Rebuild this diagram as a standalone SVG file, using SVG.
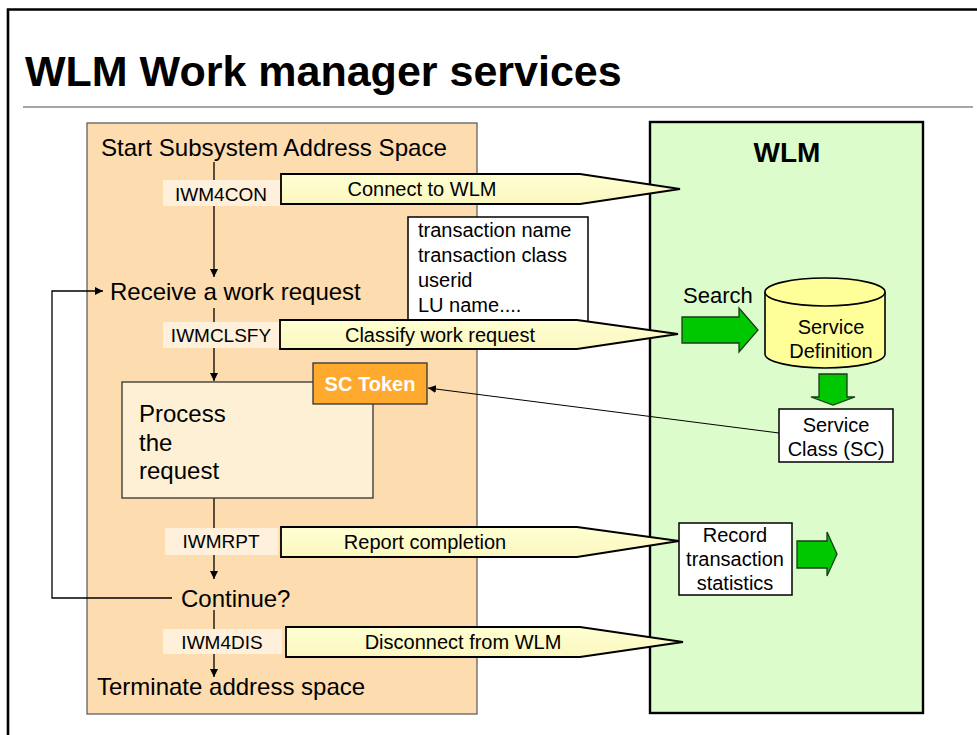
<svg xmlns="http://www.w3.org/2000/svg" width="977" height="735" viewBox="0 0 977 735">
<defs>
<style>
text{font-family:"Liberation Sans",Arial,sans-serif;fill:#000}
.lbl{fill:#FEF0DA;stroke:none}
.lbt{font-size:19px;text-anchor:middle}
.big{font-size:24px}
.m{font-size:20px}
.ctr{text-anchor:middle}
.fat{fill:url(#yg);stroke:#000;stroke-width:1.8}
.flow{stroke:#000;stroke-width:1.3;fill:none}
.grn{fill:#00C800;stroke:#1a3a1a;stroke-width:1.3}
.box{fill:#fff;stroke:#000;stroke-width:1.5}
</style>
<linearGradient id="yg" x1="0" y1="0" x2="0" y2="1">
<stop offset="0" stop-color="#FFFFD2"/>
<stop offset="1" stop-color="#FBF7C0"/>
</linearGradient>
<marker id="ah" viewBox="0 0 10 10" refX="10" refY="5" markerWidth="8" markerHeight="8" markerUnits="userSpaceOnUse" orient="auto">
<path d="M0,0 L10,5 L0,10 z" fill="#000"/>
</marker>
</defs>
<rect x="0" y="0" width="977" height="735" fill="#fff"/>
<path d="M8,740 V9.5 H985" fill="none" stroke="#000" stroke-width="2.6"/>
<text x="25" y="86" font-size="43" font-weight="bold">WLM Work manager services</text>
<line x1="23" y1="107" x2="973" y2="107" stroke="#888" stroke-width="1.6"/>

<g id="subsystem">
<rect x="87" y="123" width="390" height="591" fill="#FDDCAF" stroke="#555" stroke-width="1.2"/>
<text x="101" y="156" class="big" textLength="346" lengthAdjust="spacingAndGlyphs">Start Subsystem Address Space</text>
</g>
<g id="wlm">
<rect x="650" y="122" width="273" height="591" fill="#DDFCCC" stroke="#000" stroke-width="2.4"/>
<text x="787" y="162" font-size="28" font-weight="bold" class="ctr">WLM</text>
</g>

<g id="connectors">
<line x1="214" y1="162" x2="214" y2="277" class="flow" marker-end="url(#ah)"/>
<line x1="214" y1="308" x2="214" y2="381" class="flow" marker-end="url(#ah)"/>
<line x1="214" y1="498" x2="214" y2="579" class="flow" marker-end="url(#ah)"/>
<line x1="214" y1="610" x2="214" y2="677" class="flow" marker-end="url(#ah)"/>
<polyline points="172,598 52,598 52,291 103,291" class="flow" marker-end="url(#ah)"/>
<line x1="779" y1="433" x2="428" y2="388" stroke="#000" stroke-width="1" marker-end="url(#ah)"/>
</g>

<g id="receive"><text x="110" y="300" class="big">Receive a work request</text></g>
<g id="continue"><text x="181" y="607" class="big">Continue?</text></g>
<g id="terminate"><text x="97" y="695" class="big">Terminate address space</text></g>

<g id="iwm4con">
<rect x="163" y="180" width="117" height="26" class="lbl"/>
<text x="221" y="201" class="lbt">IWM4CON</text>
</g>
<g id="connect">
<path d="M281,174 H580 L680,189 L580,204 H281 Z" class="fat"/>
<text x="422" y="196" class="m ctr">Connect to WLM</text>
</g>

<g id="params">
<rect x="408" y="217" width="180" height="110" class="box"/>
<text x="418" y="237" class="m">transaction name</text>
<text x="418" y="262" class="m">transaction class</text>
<text x="418" y="287" class="m">userid</text>
<text x="418" y="312" class="m">LU name....</text>
</g>

<g id="iwmclsfy">
<rect x="163" y="322" width="117" height="26" class="lbl"/>
<text x="221" y="342" class="lbt">IWMCLSFY</text>
</g>
<g id="classify">
<path d="M280,320 H577 L678,334 L577,349 H280 Z" class="fat"/>
<text x="440" y="342" class="m ctr">Classify work request</text>
</g>

<g id="search">
<text x="683" y="303" font-size="22">Search</text>
<path d="M682,317 H739 V308 L758,330 L739,352 V343 H682 Z" class="grn"/>
</g>

<g id="servicedef">
<path d="M765,292 V354 A60,14 0 0 0 885,354 V292" fill="#FFFF99" stroke="#000" stroke-width="1.6"/>
<ellipse cx="825" cy="292" rx="60" ry="14" fill="#FFFF99" stroke="#000" stroke-width="1.6"/>
<text x="831" y="334" class="m ctr">Service</text>
<text x="831" y="358" class="m ctr">Definition</text>
</g>
<path d="M819,374 H847 V397 H855 L833,405 L811,397 H819 Z" class="grn"/>

<g id="serviceclass">
<rect x="779" y="409" width="114" height="53" class="box"/>
<text x="836" y="432" class="m ctr">Service</text>
<text x="836" y="456" class="m ctr">Class (SC)</text>
</g>

<g id="process">
<rect x="122" y="382" width="251" height="116" fill="#FEF0D5" stroke="#333" stroke-width="1.3"/>
<text x="139" y="422" class="big">Process</text>
<text x="139" y="451" class="big">the</text>
<text x="139" y="479" class="big">request</text>
</g>
<g id="sctoken">
<rect x="313" y="363" width="114" height="41" fill="#FFAA2E" stroke="#333" stroke-width="1.3"/>
<text x="370" y="391" font-size="20" font-weight="bold" class="ctr" style="fill:#fff">SC Token</text>
</g>

<g id="iwmrpt">
<rect x="165" y="528" width="113" height="27" class="lbl"/>
<text x="221" y="548" class="lbt">IWMRPT</text>
</g>
<g id="report">
<path d="M281,527 H577 L679,541 L577,557 H281 Z" class="fat"/>
<text x="425" y="549" class="m ctr">Report completion</text>
</g>

<g id="record">
<rect x="679" y="523" width="113" height="72" class="box"/>
<text x="735" y="542" class="m ctr">Record</text>
<text x="735" y="566" class="m ctr">transaction</text>
<text x="735" y="590" class="m ctr">statistics</text>
</g>
<path d="M797,541 H827 V532 L837,554 L827,576 V568 H797 Z" class="grn"/>

<g id="iwm4dis">
<rect x="163" y="629" width="119" height="25" class="lbl"/>
<text x="222" y="649" class="lbt">IWM4DIS</text>
</g>
<g id="disconnect">
<path d="M286,627 H580 L683,642 L580,657 H286 Z" class="fat"/>
<text x="463" y="649" class="m ctr">Disconnect from WLM</text>
</g>
</svg>
